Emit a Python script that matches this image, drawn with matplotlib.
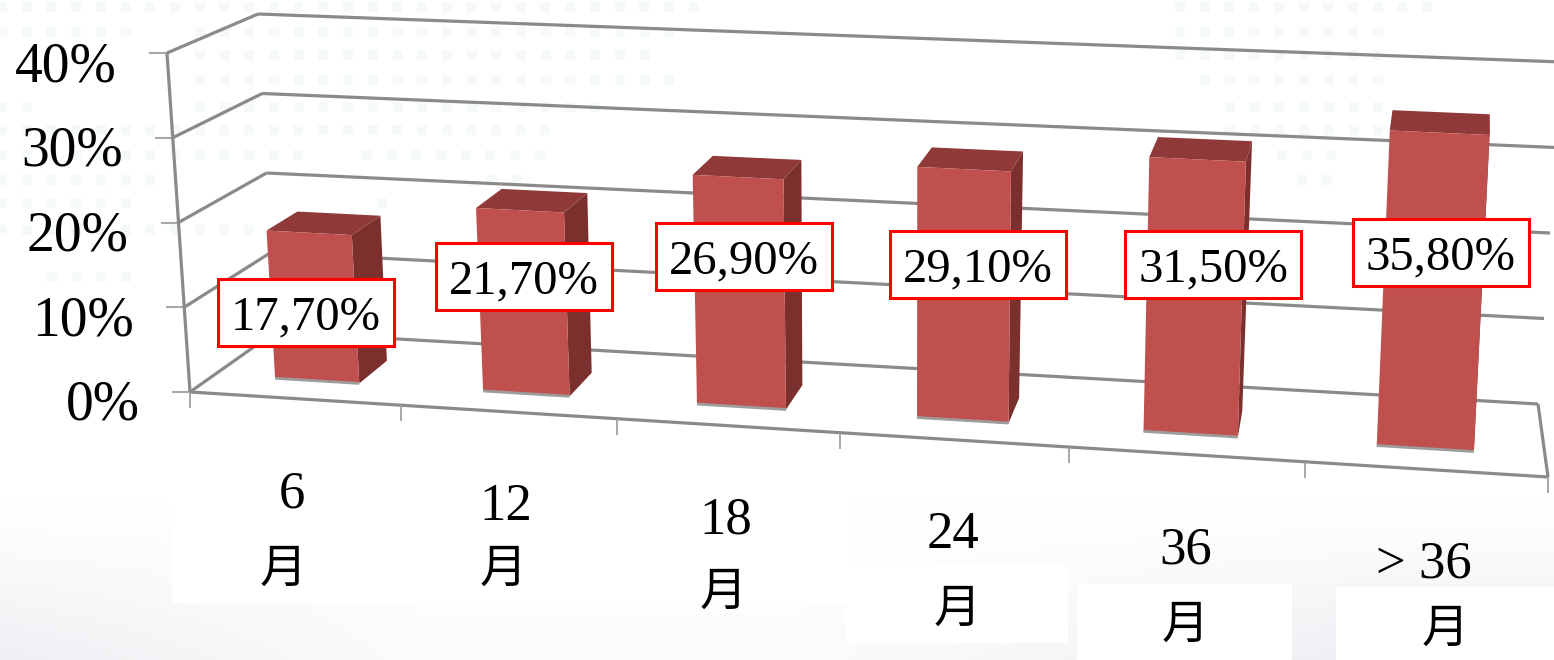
import numpy as np
import matplotlib
matplotlib.use("Agg")
import matplotlib.pyplot as plt
from matplotlib.patches import Rectangle

# ---- data ----
categories = ["6", "12", "18", "24", "36", "> 36"]
unit_label = "月"
values = [17.7, 21.7, 26.9, 29.1, 31.5, 35.8]
value_labels = ["17,70%", "21,70%", "26,90%", "29,10%", "31,50%", "35,80%"]
y_ticks = [0, 10, 20, 30, 40]
y_tick_labels = ["0%", "10%", "20%", "30%", "40%"]

# ---- layout (pixels) ----
W, H = 1554, 660
FL0, FL40 = (190, 392), (167, 53)
BL0, BL40 = (275, 332), (258, 14)
FR0, FR40 = (1548, 477), (1566, 117)
BR0, BR40 = (1538, 404), (1562, 62)
K = 1.09
HALF_W = 0.034
D0, D1 = 0.29, 0.66
BOX_W, BOX_H = 176, 67
box_centers = [(306, 312), (524, 276), (744, 256), (978, 264), (1213, 264), (1441, 252)]
num_pos = [(292, 495), (506, 507), (726, 520), (953, 535), (1186, 550), (1424, 565)]
yue_pos = [(283, 570), (503, 570), (723, 593), (957, 610), (1185, 626), (1445, 630)]
SERIF = "Liberation Serif"
GRID = "#8a8a8a"


def s_of(t):
    return t / (t + K * (1 - t))


def project(t, v, d):
    """t: 0..1 across the categories, v: percent, d: 0 front .. 1 back."""
    s = s_of(t)
    u = v / 40.0
    c = lambda a, b: np.array(a) * (1 - u) + np.array(b) * u
    front = c(FL0, FL40) * (1 - s) + c(FR0, FR40) * s
    back = c(BL0, BL40) * (1 - s) + c(BR0, BR40) * s
    return tuple(front * (1 - d) + back * d)


fig = plt.figure(figsize=(W / 100, H / 100), dpi=100)
ax = fig.add_axes([0, 0, 1, 1])
ax.set_xlim(0, W)
ax.set_ylim(H, 0)
ax.axis("off")

# background gradient
yy, xx = np.mgrid[0:H, 0:W]
shade = np.clip((yy - 500) / 160.0, 0, 1) ** 1.2
left = np.clip(1 - xx / 420.0, 0, 1)
right = np.clip((xx - 800) / 600.0, 0, 1)
amount = shade * (0.012 + 0.05 * left + 0.055 * right)
bg = np.dstack([1 - amount, 1 - amount, 1 - amount * 0.7])
ax.imshow(bg, extent=(0, W, H, 0), aspect="auto", zorder=0)

# faint dot texture
dot_rows = [
    (7, [(0, 718)]), (32, [(0, 134), (198, 671)]), (55, [(198, 645)]),
    (80, [(198, 694)]), (107, [(0, 50), (198, 600)]), (130, [(0, 570)]),
    (155, [(0, 300), (365, 545)]), (180, [(0, 160), (490, 540)]),
    (203, [(0, 150), (380, 400)]), (230, [(0, 250)]), (277, [(50, 130)]),
    (7, [(1178, 1451)]), (32, [(1178, 1400)]), (55, [(1178, 1380)]),
    (80, [(1203, 1380)]), (107, [(1228, 1380)]), (130, [(1228, 1380)]),
    (155, [(1280, 1350)]), (180, [(1300, 1350)]),
]
dx, dy = [], []
for ry, spans in dot_rows:
    for a, b in spans:
        for px in np.arange(a + 2, b, 24.7):
            dx.append(px)
            dy.append(ry)
ax.scatter(dx, dy, s=42, marker="s", c="#f5faf8", linewidths=0, zorder=1)

# white patches behind the labels
for x0, y0, x1, y1 in [(172, 480, 850, 603), (846, 565, 1068, 643),
                       (1077, 584, 1292, 660), (1336, 587, 1554, 660)]:
    ax.add_patch(Rectangle((x0, y0), x1 - x0, y1 - y0, fc="white", ec="none", zorder=1))


def seg(a, b, lw=2.3, color=GRID, z=2):
    ax.plot([a[0], b[0]], [a[1], b[1]], color=color, lw=lw, zorder=z, solid_capstyle="butt")


# walls
for v, lab in zip(y_ticks, y_tick_labels):
    seg(project(0, v, 0), project(0, v, 1))
    seg(project(0, v, 1), project(1, v, 1))
    p = project(0, v, 0)
    seg((p[0] - 18, p[1]), p, lw=1.5, color="#a8a8a8")
    ax.text(p[0] - 50, p[1] + 14, lab, ha="right", va="center", fontsize=40,
            family=SERIF, color="black", zorder=6)
seg(project(0, 0, 0), project(0, 40, 0))
seg(project(0, 0, 0), project(1, 0, 0))
seg(project(1, 0, 0), project(1, 0, 1))
for i in range(len(categories) + 1):
    p = project(i / len(categories), 0, 0)
    seg(p, (p[0], p[1] + 16), lw=1.3, color="#a0a0a0")

# bars
n = len(categories)
for i, v in enumerate(values):
    tc = (i + 0.5) / n
    t0, t1 = tc - HALF_W, tc + HALF_W
    fbl, fbr = project(t0, 0, D0), project(t1, 0, D0)
    ftl, ftr = project(t0, v, D0), project(t1, v, D0)
    bbr = project(t1, 0, D1)
    btl, btr = project(t0, v, D1), project(t1, v, D1)
    ax.fill(*zip(fbr, bbr, btr, ftr), color="#7b302e", lw=0, zorder=3)
    ax.fill(*zip(ftl, ftr, btr, btl), color="#8f3a38", lw=0, zorder=3)
    ax.fill(*zip(fbl, fbr, ftr, ftl), color="#c0504d", lw=0, zorder=3)
    seg(fbl, fbr, lw=2.0, color="#9c9c9c", z=3)

# value boxes
for (cx, cy), lab in zip(box_centers, value_labels):
    ax.add_patch(Rectangle((cx - BOX_W / 2, cy - BOX_H / 2), BOX_W, BOX_H,
                           fc="white", ec="#ff0000", lw=2.2, zorder=5))
    ax.text(cx, cy + 5, lab, ha="center", va="center", fontsize=35,
            family=SERIF, color="black", zorder=6)

# category labels
for lab, (x, y) in zip(categories, num_pos):
    ax.text(x, y, lab, ha="center", va="center", fontsize=38, family=SERIF, color="black", zorder=6)
for (x, y) in yue_pos:
    ax.text(x, y, unit_label, ha="center", va="center", fontsize=34,
            family="Noto Sans CJK SC", color="black", zorder=6)

fig.savefig("out.png", dpi=100)
